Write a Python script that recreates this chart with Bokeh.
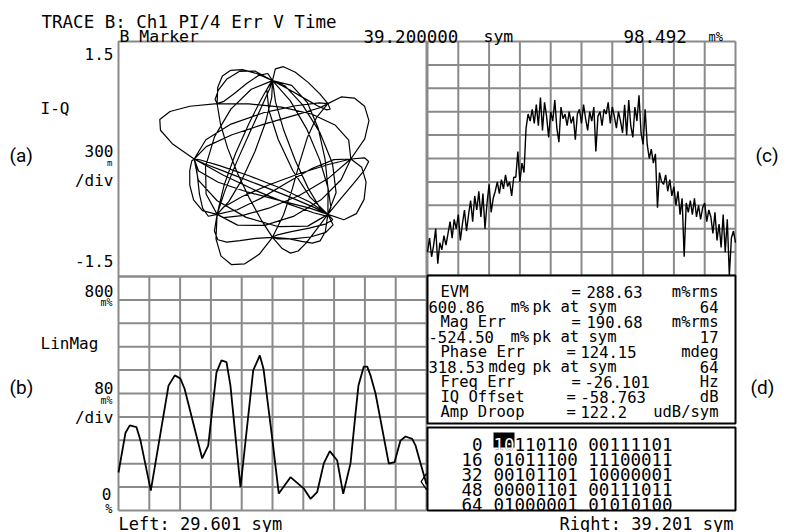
import numpy as np
from bokeh.plotting import figure
from bokeh.models import Range1d
from bokeh.core.properties import value
from bokeh.embed import file_html
from bokeh.resources import INLINE

# ---------------- data ----------------
bit_row_labels = ["0", "16", "32", "48", "64"]
bit_rows = ["10110110 00111101", "01011100 11100011", "00101101 10000001",
            "00001101 00111011", "01000001 01010100"]

iq_full_scale = 1.5          # 300 m/div, 10 div
evm_left, evm_right = 29.601, 39.201
evm_full_scale = 800         # m%, 80 m%/div
evm_sym = [29.601, 29.82, 29.953, 30.162, 30.287, 30.608, 31.16, 31.356, 31.53, 31.658,
           32.210, 32.397, 32.655, 32.811, 32.967, 33.09, 33.404, 33.800, 34.005, 34.12,
           34.401, 34.597, 34.962, 35.377, 35.585, 35.794, 36.000, 36.187, 36.418, 36.605,
           36.833, 36.989, 37.08, 37.247, 37.353, 37.455, 37.612, 38.026, 38.204, 38.39,
           38.547, 38.755, 38.86, 38.961, 39.201]
evm_val = [130, 266, 291, 285, 239, 68, 427, 462, 451, 417,
           178, 222, 472, 513, 507, 427, 80, 479, 530, 485,
           239, 58, 114, 75, 40, 63, 161, 203, 171, 57,
           161, 332, 427, 492, 492, 462, 400, 160, 165, 239,
           253, 245, 222, 182, 90]
marker_sym, marker_val = 39.2, 98.492

spectrum_div = [1.0, 1.6, 0.8, 1.3, 2.0, 0.5, 1.4, 1.1, 1.7, 1.3,
                1.8, 2.3, 1.6, 2.4, 2.0, 2.6, 1.5, 2.2, 2.8, 1.9,
                2.6, 3.2, 2.3, 3.4, 2.8, 3.6, 2.5, 3.5, 2.0, 3.1, 3.9, 2.7, 3.3,
                3.6, 4.0, 3.5, 4.1, 3.7, 4.3, 3.8, 4.0, 3.4, 4.2,
                4.2, 5.3, 4.0, 4.8, 4.4,
                6.3, 6.9, 6.6, 7.1, 6.5, 7.3, 6.4, 7.6, 6.2, 7.4, 6.8, 5.9, 7.0, 6.6, 7.5,
                6.3, 5.7, 7.2, 6.7, 6.9, 6.4, 7.0, 6.5, 6.8, 5.8, 6.9, 7.1, 6.5, 7.3, 6.7,
                6.2, 7.0, 6.6, 7.2, 5.3, 6.8, 7.0, 6.4, 7.1, 6.9, 7.4, 6.5, 7.2, 6.8, 6.3,
                7.0, 6.6, 6.1, 7.3, 6.0, 7.5, 6.4, 5.9, 7.2, 6.6, 7.7, 6.1, 5.6, 7.1,
                5.6, 5.0, 5.4, 4.8, 5.2, 2.9, 4.4, 4.0,
                3.9, 4.3, 3.6, 4.1, 3.4, 3.8, 3.0, 3.6, 2.6, 3.3, 0.8, 3.1, 2.7,
                3.2, 2.6, 3.3, 2.5, 3.0, 2.4, 2.9, 3.1, 2.3, 2.8,
                2.5, 1.8, 2.7, 1.5, 2.2, 1.2, 2.6, 1.0, 2.4, 0.0, 1.6, 1.9, 1.4]

stats_rows = [
    [("EVM", 440, "left"), ("=", 571, "left"), ("288.63", 586, "left"), ("m%rms", 718, "right")],
    [("600.86", 428, "left"), ("m%", 510, "left"), ("pk at sym", 532, "left"), ("64", 718, "right")],
    [("Mag Err", 440, "left"), ("=", 571, "left"), ("190.68", 586, "left"), ("m%rms", 718, "right")],
    [("-524.50", 428, "left"), ("m%", 510, "left"), ("pk at sym", 532, "left"), ("17", 718, "right")],
    [("Phase Err", 440, "left"), ("=", 566, "left"), ("124.15", 580, "left"), ("mdeg", 718, "right")],
    [("318.53", 428, "left"), ("mdeg", 488, "left"), ("pk at sym", 532, "left"), ("64", 718, "right")],
    [("Freq Err", 440, "left"), ("=", 571, "left"), ("-26.101", 584, "left"), ("Hz", 718, "right")],
    [("IQ Offset", 440, "left"), ("=", 566, "left"), ("-58.763", 580, "left"), ("dB", 718, "right")],
    [("Amp Droop", 440, "left"), ("=", 566, "left"), ("122.2", 580, "left"), ("udB/sym", 718, "right")],
]

# ---------------- I-Q trajectory from the demodulated bits (pi/4 DQPSK) ----------------
bits = "".join(r.replace(" ", "") for r in bit_rows)
steps = {"00": 1, "01": 3, "11": -3, "10": -1}
k = np.cumsum([steps[bits[i:i + 2]] for i in range(0, len(bits), 2)])
syms = np.exp(1j * np.pi / 4 * k)
N = 6
alpha = 0.35
tt = np.arange(-6 * N, 6 * N + 1) / N
h = np.sinc(tt) * np.cos(np.pi * alpha * tt) / (1 - (2 * alpha * tt) ** 2)
up = np.zeros(len(syms) * N, complex)
up[::N] = syms
full = np.convolve(np.tile(up, 3), h, mode="same")
L = len(up)
traj = full[L:2 * L + 1]

# ---------------- figure in page-pixel coordinates ----------------
FX0, FX1, FY0, FY1 = 0, 786, 0, 532
W, H = FX1 - FX0, FY1 - FY0
p = figure(width=W, height=H, x_range=Range1d(FX0, FX1), y_range=Range1d(FY1, FY0),
           output_backend="svg", toolbar_location=None, min_border=0,
           x_axis_type=None, y_axis_type=None)
p.grid.visible = False
p.outline_line_color = None
p.background_fill_color = "white"
p.border_fill_color = "white"


def xmap(d0, d1, p0, p1):
    kk = (d1 - d0) / (p1 - p0)
    return Range1d(d0 + (FX0 - p0) * kk, d0 + (FX1 - p0) * kk)


def ymap(d_bot, d_top, p_bot, p_top):
    kk = (d_top - d_bot) / (p_bot - p_top)
    return Range1d(d_bot - (FY1 - p_bot) * kk, d_top + (p_top - FY0) * kk)


# panel boxes (page px)
AX0, AX1, AY0, AY1 = 118, 426, 41, 276
CX0, CX1, CY0, CY1 = 427, 735, 41, 275
BX0, BX1, BY0, BY1 = 118, 426, 276, 510

iq_half_w = iq_full_scale * (AX1 - AX0) / (AY1 - AY0)
p.extra_x_ranges = {
    "a": xmap(-iq_half_w, iq_half_w, AX0, AX1),
    "b": xmap(evm_left, evm_right, BX0, BX1),
    "c": xmap(0, len(spectrum_div) - 1, CX0, CX1),
}
p.extra_y_ranges = {
    "a": ymap(-iq_full_scale, iq_full_scale, AY1, AY0),
    "b": ymap(0, evm_full_scale, BY1, BY0),
    "c": ymap(0, 10, CY1, CY0),
}

GRID = "#8a8a8a"


def grid(xr, yr, x0, x1, y0, y1):
    xs = np.linspace(x0, x1, 11)
    ys = np.linspace(y0, y1, 11)
    p.segment(x0=xs, x1=xs, y0=[y0] * 11, y1=[y1] * 11, x_range_name=xr, y_range_name=yr,
              line_color=GRID, line_width=2)
    p.segment(x0=[x0] * 11, x1=[x1] * 11, y0=ys, y1=ys, x_range_name=xr, y_range_name=yr,
              line_color=GRID, line_width=2)


grid("b", "b", evm_left, evm_right, 0, evm_full_scale)
grid("c", "c", 0, len(spectrum_div) - 1, 0, 10)

# panel (a) border
p.quad(left=[AX0], right=[AX1], top=[AY0], bottom=[AY1], fill_color=None,
       line_color=GRID, line_width=2)

# traces
p.line(traj.real, traj.imag, x_range_name="a", y_range_name="a", line_color="black", line_width=1.2)
p.line(evm_sym, evm_val, x_range_name="b", y_range_name="b", line_color="black", line_width=1.8)
p.scatter([marker_sym], [marker_val], x_range_name="b", y_range_name="b", marker="diamond",
          size=16, fill_color=None, line_color="black", line_width=1.2)
p.line(list(range(len(spectrum_div))), spectrum_div, x_range_name="c", y_range_name="c",
       line_color="black", line_width=1.4)

# panel (d) boxes
p.quad(left=[427], right=[735], top=[275], bottom=[423], fill_color="white",
       line_color="black", line_width=2)
p.quad(left=[427], right=[735], top=[427], bottom=[510], fill_color="white",
       line_color="black", line_width=2)

MONO = "DejaVu Sans Mono"


def txt(x, y, s, size=16, align="left", color="black", font=MONO, baseline="alphabetic"):
    p.text(x=[x], y=[y], text=[s], text_font=value(font), text_font_size=f"{size}px",
           text_align=align, text_baseline=baseline, text_color=color)


# header
txt(41, 21, "TRACE B: Ch1 PI/4 Err V Time", 17.5)
txt(119, 36, "B Marker", 16.5)
txt(363, 36, f"{marker_sym:.6f}", 17.5)
txt(483, 36, "sym", 16.5)
txt(623, 36, f"{marker_val:.3f}", 17.5)
txt(708, 36, "m%", 12)

# left labels, panel (a)
txt(113, 53, "1.5", 16, "right")
txt(40, 108, "I-Q", 16)
txt(113, 150, "300", 16, "right")
txt(112, 162, "m", 9, "right")
txt(113, 180, "/div", 16, "right")
txt(113, 260, "-1.5", 16, "right")
# left labels, panel (b)
txt(113, 290, "800", 16, "right")
txt(112, 302, "m%", 10, "right")
txt(40, 343, "LinMag", 16)
txt(113, 387, "80", 16, "right")
txt(112, 400, "m%", 10, "right")
txt(113, 417, "/div", 16, "right")
txt(111, 493, "0", 16, "right")
txt(112, 508, "%", 12, "right")

# footer
txt(118, 523, f"Left: {evm_left:.3f} sym", 17)
txt(733, 523, f"Right: {evm_right:.3f} sym", 17, "right")

# stats panel (d)
for i, row in enumerate(stats_rows):
    y = 291 + 15.1 * i
    for s, x, al in row:
        txt(x, y, s, 15.5, al)

# bits panel
for i, (lab, row) in enumerate(zip(bit_row_labels, bit_rows)):
    y = 444 + 15 * i
    txt(482, y, lab, 17.5, "right")
    txt(493, y, row, 17.5)
p.quad(left=[493], right=[514], top=[432], bottom=[447], fill_color="black", line_color=None)
txt(493, 444, bit_rows[0][:2], 17.5, color="white")

# panel letters
for s, x, y in [("(a)", 9, 155), ("(b)", 9, 387), ("(c)", 755, 155), ("(d)", 750, 387)]:
    txt(x, y, s, 19, font="Roboto", baseline="middle")

open("out.html", "w").write(file_html(p, INLINE))
